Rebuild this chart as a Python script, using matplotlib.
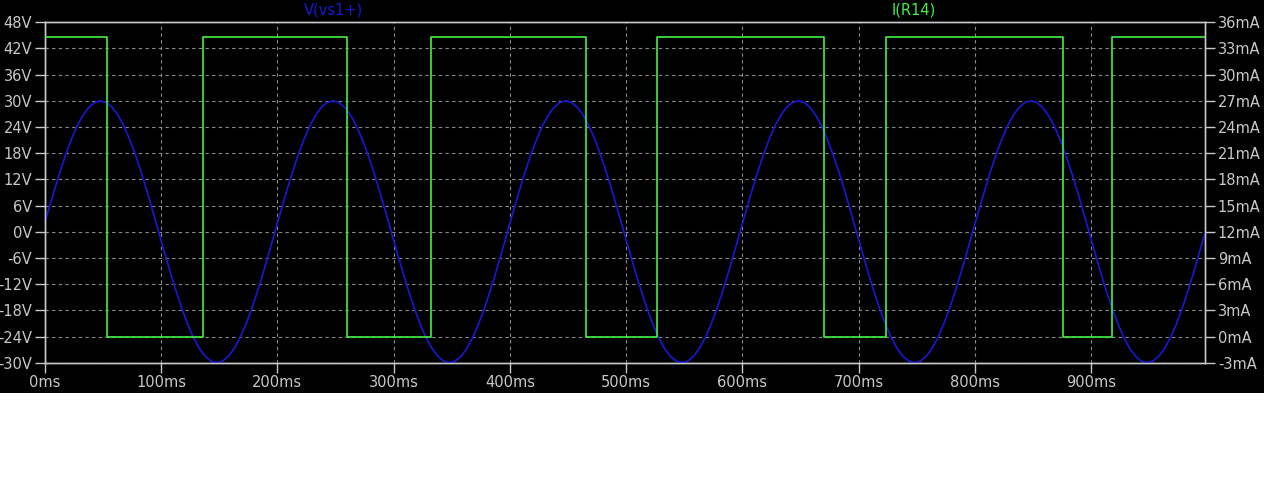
import numpy as np
import matplotlib.pyplot as plt
from matplotlib.patches import Rectangle
from matplotlib.ticker import FuncFormatter, MultipleLocator

# =========================================================
# WAVEFORM VIEWER - V(vs1+) and I(R14)
# =========================================================

OUTPUT_PNG = "out.png"

# one period of V(vs1+) read every 5 ms (volts), period = 200 ms
V_CYCLE = [0.0, 4.69, 9.27, 13.62, 17.63, 21.21, 24.27, 26.73, 28.53, 29.63,
           30.0, 29.63, 28.53, 26.73, 24.27, 21.21, 17.63, 13.62, 9.27, 4.69,
           0.0, -4.69, -9.27, -13.62, -17.63, -21.21, -24.27, -26.73, -28.53, -29.63,
           -30.0, -29.63, -28.53, -26.73, -24.27, -21.21, -17.63, -13.62, -9.27, -4.69]
V_STEP_MS = 5.0
V_START_MS = -2.0
V_CYCLES = 5

# I(R14) square wave: edge times (ms) and level after each edge (mA)
I_EDGES_MS = [0.0, 53.8, 136.4, 260.2, 331.9, 465.7, 526.8, 670.4, 723.2, 875.4, 918.1, 998.0]
I_LEVELS_MA = [34.3, 0.0, 34.3, 0.0, 34.3, 0.0, 34.3, 0.0, 34.3, 0.0, 34.3, 34.3]

X_END_MS = 998.0
V_LIM = (-30, 48)
I_LIM = (-3, 36)

BLUE = "#1818d8"
GREEN = "#44f044"
FRAME = "#c8c8c8"
GRID = "#8c8c8c"
FONT = "DejaVu Sans"


def build_plot():
    fig = plt.figure(figsize=(12.64, 4.83), dpi=100, facecolor="white")
    fig.patches.append(Rectangle((0, 1 - 393 / 483), 1, 393 / 483,
                                 transform=fig.transFigure, facecolor="#000000",
                                 edgecolor="none", zorder=-10))

    W, H = 1264, 483
    ax = fig.add_axes([44.7 / W, 1 - 362.7 / H, (1205.3 - 44.7) / W, (362.7 - 22.3) / H])
    ax.set_facecolor("black")
    ax2 = ax.twinx()

    v = np.array(V_CYCLE * V_CYCLES + [V_CYCLE[0]])
    t = V_START_MS + V_STEP_MS * np.arange(len(v))
    ax.plot(t, v, color=BLUE, linewidth=1.2, zorder=3)

    ax2.plot(I_EDGES_MS, I_LEVELS_MA, drawstyle="steps-post", color=GREEN,
             linewidth=1.2, zorder=3)

    ax.set_xlim(0, X_END_MS)
    ax.set_ylim(*V_LIM)
    ax2.set_ylim(*I_LIM)

    ax.xaxis.set_major_locator(MultipleLocator(100))
    ax.yaxis.set_major_locator(MultipleLocator(6))
    ax2.yaxis.set_major_locator(MultipleLocator(3))
    ax.xaxis.set_major_formatter(FuncFormatter(lambda x, p: f"{x:.0f}ms"))
    ax.yaxis.set_major_formatter(FuncFormatter(lambda y, p: f"{y:.0f}V"))
    ax2.yaxis.set_major_formatter(FuncFormatter(lambda y, p: f"{y:.0f}mA"))

    ax.grid(True, color=GRID, linestyle=(0, (3, 3)), linewidth=0.8)

    for a in (ax, ax2):
        for s in a.spines.values():
            s.set_color(FRAME)
            s.set_linewidth(1.0)
        a.tick_params(colors=FRAME, labelcolor=FRAME, length=7, width=1.0,
                      direction="out", pad=2, labelsize=10.5)
        for lbl in a.get_xticklabels() + a.get_yticklabels():
            lbl.set_family(FONT)

    fig.text(333 / W, 1 - 10 / H, "V(vs1+)", color=BLUE, fontsize=10.5,
             family=FONT, ha="center", va="center")
    fig.text(914 / W, 1 - 10 / H, "I(R14)", color=GREEN, fontsize=10.5,
             family=FONT, ha="center", va="center")

    fig.savefig(OUTPUT_PNG, dpi=100, facecolor="white")
    plt.close(fig)


if __name__ == "__main__":
    build_plot()
